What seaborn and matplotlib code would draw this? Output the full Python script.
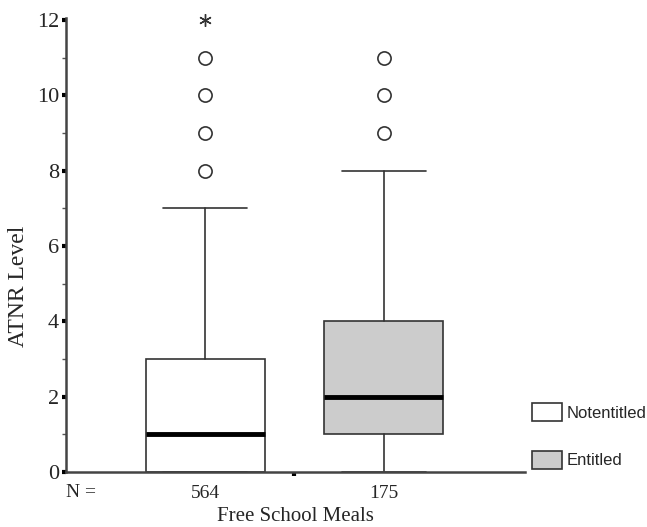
import matplotlib
matplotlib.use("Agg")
import matplotlib.pyplot as plt
from matplotlib.patches import Patch
import seaborn as sns

# -------------------------------
# data
# -------------------------------
groups = ["Notentitled", "Entitled"]
n_counts = [564, 175]
q1 = [0, 1]
medians = [1, 2]
q3 = [3, 4]
whisker_low = [0, 0]
whisker_high = [7, 8]
outliers = [[8, 9, 10, 11], [9, 10, 11]]
extremes = [[12], []]
fills = ["white", "#cccccc"]

sns.set_style("white")
serif = ["Liberation Serif", "DejaVu Serif"]
sans = ["Liberation Sans", "DejaVu Sans"]
plt.rcParams["font.family"] = serif

fig = plt.figure(figsize=(6.47, 5.27), dpi=100)
ax = fig.add_axes([0.102, 0.104, 0.709, 0.862])

stats = []
for i in range(len(groups)):
    stats.append({
        "label": groups[i],
        "q1": q1[i], "med": medians[i], "q3": q3[i],
        "whislo": whisker_low[i], "whishi": whisker_high[i],
        "fliers": outliers[i],
    })

edge = "#333333"
bp = ax.bxp(stats, positions=[0, 1], widths=0.667, patch_artist=True,
            capwidths=0.47,
            boxprops=dict(edgecolor=edge, linewidth=1.2),
            whiskerprops=dict(color=edge, linewidth=1.2),
            capprops=dict(color=edge, linewidth=1.2),
            medianprops=dict(color="black", linewidth=3.5),
            flierprops=dict(marker="o", markerfacecolor="white",
                            markeredgecolor=edge, markersize=9.5,
                            markeredgewidth=1.2, linestyle="none"))
for patch, c in zip(bp["boxes"], fills):
    patch.set_facecolor(c)

# extreme values (asterisk)
for i, vals in enumerate(extremes):
    if vals:
        ax.plot([i] * len(vals), vals, linestyle="none", marker=(6, 2, 0),
                markersize=9, color=edge, markeredgewidth=1.0, clip_on=False)

ax.set_xlim(-0.78, 1.79)
ax.set_ylim(0, 12.05)

sns.despine(ax=ax, top=True, right=True)
for s in ["left", "bottom"]:
    ax.spines[s].set_color("#444444")
    ax.spines[s].set_linewidth(1.8)

ax.set_yticks(range(0, 13, 2))
ax.set_yticks(range(1, 13, 2), minor=True)
ax.tick_params(axis="y", which="both", left=True)
ax.tick_params(axis="y", which="major", direction="out", length=3, width=3,
               color="black", labelsize=16, pad=2)
ax.tick_params(axis="y", which="minor", direction="out", length=3, width=1,
               color="#555555")

ax.set_xticks([0, 1])
ax.set_xticklabels([str(n) for n in n_counts])
ax.set_xticks([0.5], minor=True)
ax.tick_params(axis="x", which="both", bottom=True)
ax.tick_params(axis="x", which="major", length=0, labelsize=14, pad=9)
ax.tick_params(axis="x", which="minor", direction="out", length=3, width=3,
               color="black")
ax.text(0.0, -0.027, "N =", transform=ax.transAxes, ha="left", va="top",
        fontsize=14)

ax.set_xlabel("Free School Meals", fontsize=15, labelpad=4)
ax.set_ylabel("ATNR Level", fontsize=17)
ax.yaxis.set_label_coords(-0.08, 0.41)

handles = [Patch(facecolor=c, edgecolor=edge, linewidth=1.2) for c in fills]
fig.legend(handles, groups, loc="lower left", bbox_to_anchor=(0.812, 0.098),
           frameon=False, prop={"family": sans, "size": 12},
           handlelength=1.8, handleheight=1.3, labelspacing=1.75,
           handletextpad=0.3, borderaxespad=0)

fig.savefig("out.png", dpi=100)
